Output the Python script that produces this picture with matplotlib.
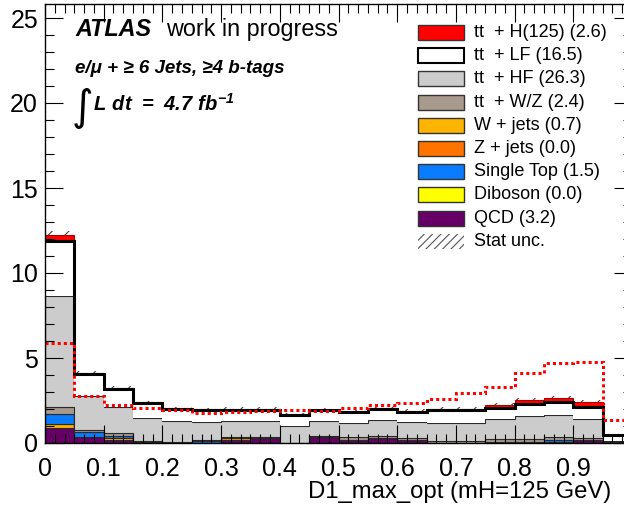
import numpy as np
import matplotlib.pyplot as plt
from matplotlib.patches import Rectangle
from matplotlib.ticker import MultipleLocator, AutoMinorLocator, FuncFormatter

plt.rcParams['font.family'] = ['Liberation Sans', 'DejaVu Sans']
plt.rcParams['mathtext.fontset'] = 'custom'
plt.rcParams['mathtext.bf'] = 'Liberation Sans:italic:bold'
plt.rcParams['mathtext.rm'] = 'Liberation Sans'
plt.rcParams['hatch.linewidth'] = 0.8

# 20 bins of width 0.05 in D1_max_opt
edges = np.linspace(0, 1, 21)

# stacked backgrounds, bottom -> top
qcd = [0.86, 0.33, 0.17, 0.04, 0.02, 0.0, 0.2, 0.3, 0.0, 0.33,
       0.2, 0.3, 0.15, 0.0, 0.02, 0.05, 0.05, 0.05, 0.2, 0.02]
diboson = [0.0] * 20
wjets = [0.24, 0.04, 0.12, 0.0, 0.0, 0.0, 0.12, 0.0, 0.0, 0.0,
         0.0, 0.0, 0.0, 0.0, 0.0, 0.0, 0.0, 0.0, 0.0, 0.0]
zjets = [0.0] * 20
single_top = [0.59, 0.25, 0.15, 0.0, 0.0, 0.1, 0.0, 0.0, 0.0, 0.0,
              0.0, 0.0, 0.0, 0.0, 0.0, 0.0, 0.0, 0.1, 0.0, 0.0]
ttv = [0.45, 0.14, 0.13, 0.08, 0.04, 0.05, 0.05, 0.07, 0.02, 0.07,
       0.13, 0.11, 0.16, 0.1, 0.08, 0.2, 0.2, 0.18, 0.1, 0.05]
tthf = [6.51, 2.02, 1.57, 1.35, 1.24, 1.08, 0.93, 0.93, 1.0, 0.89,
        0.85, 0.94, 0.93, 1.08, 1.08, 1.14, 1.32, 1.3, 1.09, 0.05]
ttlf = [3.25, 1.26, 1.06, 0.88, 0.7, 0.71, 0.66, 0.66, 0.6, 0.63,
        0.62, 0.65, 0.58, 0.76, 0.76, 0.66, 0.72, 0.78, 0.75, 0.35]
tth = [0.35, 0.06, 0.05, 0.05, 0.04, 0.04, 0.04, 0.04, 0.05, 0.05,
       0.05, 0.06, 0.06, 0.07, 0.08, 0.2, 0.23, 0.26, 0.26, 0.03]
stat_unc = [0.25, 0.15, 0.12, 0.1, 0.1, 0.1, 0.1, 0.1, 0.1, 0.1,
            0.1, 0.1, 0.1, 0.1, 0.1, 0.1, 0.1, 0.12, 0.12, 0.05]

# ttH shape normalised to the background
signal_shape = [5.9, 2.78, 2.26, 2.03, 1.92, 1.75, 1.82, 1.86, 1.96, 1.9,
                2.08, 2.24, 2.37, 2.59, 2.92, 3.31, 4.1, 4.69, 4.75, 1.35]

labels = ['tt  + H(125) (2.6)', 'tt  + LF (16.5)', 'tt  + HF (26.3)',
          'tt  + W/Z (2.4)', 'W + jets (0.7)', 'Z + jets (0.0)',
          'Single Top (1.5)', 'Diboson (0.0)', 'QCD (3.2)']
colors = ['#ff0000', '#ffffff', '#cccccc', '#a89a8c', '#ffb400',
          '#ff7300', '#0a7cff', '#ffff00', '#660066']

W, H = 624, 509
fig = plt.figure(figsize=(W / 100, H / 100), dpi=100)
ax = fig.add_axes([45 / W, (H - 443) / H, 587 / W, 439 / H])

stack = [(qcd, '#660066'), (diboson, '#ffff00'), (wjets, '#ffb400'),
         (zjets, '#ff7300'), (single_top, '#0a7cff'), (ttv, '#a89a8c'),
         (tthf, '#cccccc')]

base = np.zeros(20)
for vals, fc in stack:
    top = base + np.array(vals)
    if np.any(np.array(vals) > 0):
        ax.stairs(top, edges, baseline=base, fill=True, facecolor=fc,
                  edgecolor='#2a2a2a', linewidth=0.8, zorder=1)
    base = top

# tt+LF, thick black outline drawn after ttH
top_lf = base + np.array(ttlf)
ax.stairs(top_lf, edges, baseline=base, fill=True, facecolor='white',
          edgecolor='none', zorder=1)

top_all = top_lf + np.array(tth)
ax.stairs(top_all, edges, baseline=top_lf, fill=True, facecolor='#ff0000',
          edgecolor='#aa0000', linewidth=0.8, zorder=1.3)
ax.stairs(top_lf, edges, baseline=None, color='black', linewidth=2.2, zorder=1.4)

# stat. uncertainty band
ax.stairs(top_all + np.array(stat_unc), edges, baseline=top_all, fill=True,
          facecolor='none', edgecolor='#444444', hatch='//', linewidth=0,
          zorder=1.1)

# signal shape overlay
ax.stairs(signal_shape, edges, baseline=None, color='#ff0000',
          linestyle=(0, (1, 1)), linewidth=2.2, zorder=2)

ax.set_xlim(0, 1)
ax.set_ylim(0, 439 / 17)
ax.xaxis.set_major_locator(MultipleLocator(0.1))
ax.xaxis.set_minor_locator(AutoMinorLocator(6))
ax.yaxis.set_major_locator(MultipleLocator(5))
ax.yaxis.set_minor_locator(AutoMinorLocator(5))
ax.xaxis.set_major_formatter(
    FuncFormatter(lambda v, p: '' if v > 0.95 else '%g' % round(v, 2)))
ax.tick_params(which='both', direction='in', top=True, right=True,
               width=0.8, labelsize=18)
ax.tick_params(which='major', length=13)
ax.tick_params(which='minor', length=6.5)
ax.tick_params(axis='x', pad=10)
ax.tick_params(axis='y', pad=5)
for s in ax.spines.values():
    s.set_linewidth(1.0)

ax.set_xlabel('D1_max_opt (mH=125 GeV)', fontsize=17.2, ha='right', va='center')
ax.xaxis.set_label_coords((611 - 45) / 587, (443 - 492) / 439)


def fx(px):
    return px / W


def fy(py):
    return 1 - py / H


# ATLAS label
fig.text(fx(75), fy(36), 'ATLAS', fontsize=16.8, fontweight='bold', style='italic',
         va='baseline')
fig.text(fx(166), fy(36), 'work in progress', fontsize=16.8, va='baseline')
fig.text(fx(75), fy(73), 'e/\u03bc + \u2265 6 Jets, \u22654 b-tags', fontsize=13.5,
         fontweight='bold', style='italic', va='baseline')
fig.text(fx(72), fy(108), '\u222b', fontsize=30, family='DejaVu Sans', va='center')
fig.text(fx(93), fy(111), r'$\mathbf{L\ dt\ =\ 4.7\ fb^{-1}}$', fontsize=14.5,
         va='baseline')

# legend
row0, pitch = 32.5, 23.2
for i, (lab, c) in enumerate(zip(labels, colors)):
    yc = row0 + pitch * i
    ec = 'black' if i == 1 else '#333333'
    lw = 1.5 if i == 1 else 1.0
    fig.add_artist(Rectangle((fx(418), fy(yc + 7.5)), 46 / W, 15 / H,
                             transform=fig.transFigure, facecolor=c,
                             edgecolor=ec, linewidth=lw))
    fig.text(fx(474), fy(yc), lab, fontsize=13, va='center')
yc = row0 + pitch * 9
fig.add_artist(Rectangle((fx(418), fy(yc + 7.5)), 46 / W, 15 / H,
                         transform=fig.transFigure, facecolor='none',
                         edgecolor='#555555', hatch='////', linewidth=0))
fig.text(fx(474), fy(yc), 'Stat unc.', fontsize=13, va='center')

fig.savefig('out.png', dpi=100)
